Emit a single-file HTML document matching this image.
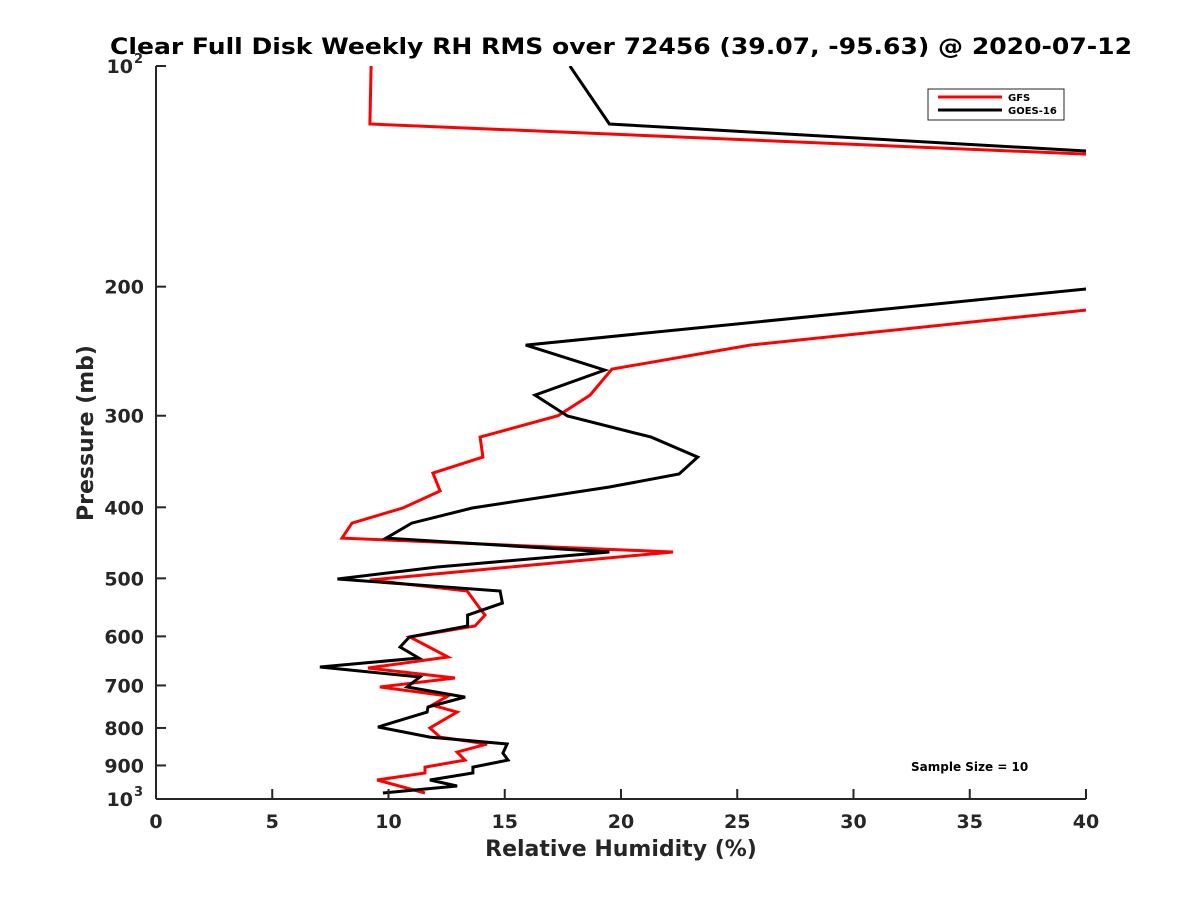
<!DOCTYPE html>
<html><head><meta charset="utf-8">
<style>
html,body{margin:0;padding:0;background:#fff;}
svg{display:block;font-family:"DejaVu Sans","Liberation Sans",sans-serif;}
</style></head>
<body>
<svg id="chart" width="1200" height="900" viewBox="0 0 1200 900">
  <rect width="1200" height="900" fill="#fff"/>
  <text x="621" y="54" text-anchor="middle" font-size="22" font-weight="bold" fill="#000" textLength="1022" lengthAdjust="spacingAndGlyphs">Clear Full Disk Weekly RH RMS over 72456 (39.07, -95.63) @ 2020-07-12</text>
  <defs><clipPath id="plotclip"><rect x="156" y="66" width="930" height="733"/></clipPath></defs>
  <g id="series" clip-path="url(#plotclip)"></g>
  <g id="axes"></g>
  <text x="621" y="856" text-anchor="middle" font-size="22" font-weight="bold" fill="#262626">Relative Humidity (%)</text>
  <text transform="translate(93,433) rotate(-90)" text-anchor="middle" font-size="22" font-weight="bold" fill="#262626">Pressure (mb)</text>
  <g>
    <rect x="928" y="89" width="136" height="31" fill="#fff" stroke="#262626" stroke-width="1"/>
    <line x1="938" y1="97" x2="1002" y2="97" stroke="#ff0000" stroke-width="3"/>
    <text x="1008" y="101" font-size="10" font-weight="bold" fill="#000">GFS</text>
    <line x1="938" y1="110" x2="1002" y2="110" stroke="#000" stroke-width="3"/>
    <text x="1008" y="114" font-size="10" font-weight="bold" fill="#000">GOES-16</text>
  </g>
  <text x="911" y="771" font-size="12" font-weight="bold" fill="#000">Sample Size = 10</text>
</svg>
<script>
const xTicks = [0,5,10,15,20,25,30,35,40];
const yTicks = [100,200,300,400,500,600,700,800,900,1000];
const yTickLabels = ["10","200","300","400","500","600","700","800","900","10"];
const gfsPressure = [100,120,131.9,160,190,215.3,240.3,259.1,281.2,300,320.8,341.6,359.2,380,400.9,420.3,440.6,460.3,502.6,520.3,550,561.2,580.8,601.2,640.2,662.7,683.8,703.4,723.6,744.5,761,800.1,823.2,841.4,862.9,884.9,904.6,921.5,942.1,981.3];
const gfsRH = [9.25,9.2,40,70,70,40,25.55,19.61,18.67,17.29,13.94,14.06,11.91,12.22,10.62,8.43,8.0,22.24,9.2,13.38,13.94,14.15,13.72,10.92,12.56,9.12,12.86,9.63,12.56,11.87,12.95,11.78,12.22,14.24,12.95,13.29,11.57,11.57,9.51,11.57];
const goesPressure = [100,120,130.6,150,180,201.5,240.3,259.9,281.2,300.3,320.8,341.6,360.3,375.3,400.9,420.3,440.6,460.3,482.5,501.1,520.3,540.4,561.2,580.8,601.2,620.3,642.1,660.5,681.7,703.4,726,749.1,761,797.7,823.2,841.4,865.6,884.9,904.6,921.5,942.1,960,981.3];
const goesRH = [17.8,19.5,40,70,70,40,15.9,19.3,16.3,17.7,21.3,23.3,22.5,19.5,13.6,11.0,9.9,19.5,12.1,7.8,14.8,14.9,13.4,13.4,10.9,10.5,11.3,7.05,11.35,10.8,13.3,11.7,11.66,9.55,11.78,15.1,14.92,15.14,13.63,13.63,11.78,12.95,9.76];

const X0=156, X1=1086, Y0=66, Y1=799;
const xScale = v => X0 + (v-0)/(40-0)*(X1-X0);
const yScale = p => Y0 + (Math.log10(p)-2)*(Y1-Y0);
const NS="http://www.w3.org/2000/svg";
const axes=document.getElementById('axes');
const series=document.getElementById('series');
function mk(tag, attrs, parent){const e=document.createElementNS(NS,tag);for(const k in attrs)e.setAttribute(k,attrs[k]);parent.appendChild(e);return e;}

function drawSeries(P, R, color, name){
  const pts=P.map((p,i)=>xScale(R[i]).toFixed(1)+','+yScale(p).toFixed(1)).join(' ');
  const pl=mk('polyline',{points:pts,fill:'none',stroke:color,'stroke-width':3,'stroke-linejoin':'miter'},series);
  
  
}
drawSeries(gfsPressure,gfsRH,'#ff0000','gfs-line');
drawSeries(goesPressure,goesRH,'#000000','goes16-line');

const xa=mk('line',{x1:X0,y1:Y1,x2:X1,y2:Y1,stroke:'#262626','stroke-width':2},axes);


const ya=mk('line',{x1:X0,y1:Y0,x2:X0,y2:Y1,stroke:'#262626','stroke-width':2},axes);



xTicks.forEach(v=>{
  const x=xScale(v);
  const t=mk('line',{x1:x,y1:Y1,x2:x,y2:Y1-10,stroke:'#262626','stroke-width':2},axes);
  
  
  const l=mk('text',{x:x,y:828,'text-anchor':'middle','font-size':19,'font-weight':'bold',fill:'#262626'},axes);
  l.textContent=v;
  
  
});
yTicks.forEach((p,i)=>{
  const y=yScale(p);
  const t=mk('line',{x1:X0,y1:y,x2:X0+10,y2:y,stroke:'#262626','stroke-width':2},axes);
  
  
  const isPow = (i===0||i===yTicks.length-1);
  const l=mk('text',{x:isPow?133:144,y:y+7,'text-anchor':'end','font-size':19,'font-weight':'bold',fill:'#262626'},axes);
  l.textContent=yTickLabels[i];
  
  
  if(isPow){
    const s=mk('text',{x:134,y:y-3,'font-size':13,'font-weight':'bold',fill:'#262626'},axes);
    s.textContent = i===0 ? '2' : '3';
    
    
  }
});
</script>
</body></html>
